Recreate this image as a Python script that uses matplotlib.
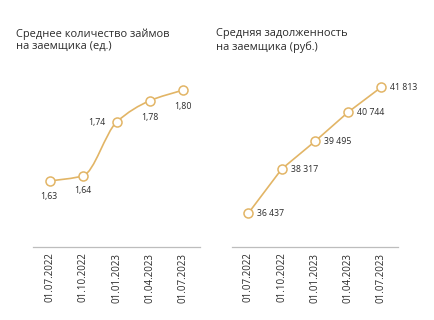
import matplotlib.pyplot as plt
import numpy as np
from matplotlib.path import Path
from matplotlib.patches import PathPatch

dates = ["01.07.2022", "01.10.2022", "01.01.2023", "01.04.2023", "01.07.2023"]
loans_count = [1.63, 1.64, 1.74, 1.78, 1.80]
avg_debt = [36437, 38317, 39495, 40744, 41813]

line_color = "#E2B566"
text_color = "#2b2b2b"
plt.rcParams["font.family"] = ["Open Sans", "DejaVu Sans"]


def smooth_path(xs, ys):
    # monotone cubic (Fritsch-Carlson tangents) drawn as bezier segments
    xs = np.asarray(xs, float)
    ys = np.asarray(ys, float)
    h = np.diff(xs)
    s = np.diff(ys) / h
    d = np.zeros_like(ys)
    d[0], d[-1] = s[0], s[-1]
    for i in range(1, len(xs) - 1):
        if s[i - 1] * s[i] > 0:
            d[i] = 2 / (1 / s[i - 1] + 1 / s[i])
    verts = [(xs[0], ys[0])]
    codes = [Path.MOVETO]
    for i in range(len(xs) - 1):
        c1 = (xs[i] + h[i] / 3, ys[i] + d[i] * h[i] / 3)
        c2 = (xs[i + 1] - h[i] / 3, ys[i + 1] - d[i + 1] * h[i] / 3)
        verts += [c1, c2, (xs[i + 1], ys[i + 1])]
        codes += [Path.CURVE4] * 3
    return Path(verts, codes)


fig = plt.figure(figsize=(4.35, 3.2), dpi=100)
ax1 = fig.add_axes([0.076, 0.228, 0.384, 0.553])
ax2 = fig.add_axes([0.533, 0.228, 0.382, 0.553])

x = np.arange(len(dates))

# left: number of loans (smooth curve)
ax1.add_patch(PathPatch(smooth_path(x, loans_count), fill=False,
                        edgecolor=line_color, lw=1.2, zorder=2))
ax1.plot(x, loans_count, ls="none", marker="o", ms=6.5, mfc="white",
         mec=line_color, mew=1.1, zorder=3)
ax1.set_ylim(1.507, 1.837)
left_offsets = [(-1, -11), (0, -11), (-14, 0), (0, -12), (0, -12)]
for xi, v, off in zip(x, loans_count, left_offsets):
    ax1.annotate(f"{v:.2f}".replace(".", ","), (xi, v), xytext=off,
                 textcoords="offset points", ha="center", va="center",
                 fontsize=6.3, color=text_color)

# right: average debt
ax2.plot(x, avg_debt, color=line_color, lw=1.2, marker="o", ms=6.5,
         mfc="white", mec=line_color, mew=1.1, zorder=3)
ax2.set_ylim(34987, 42538)
for xi, v in zip(x, avg_debt):
    ax2.annotate(f"{v:,}".replace(",", " "), (xi, v), xytext=(6.5, 0),
                 textcoords="offset points", ha="left", va="center",
                 fontsize=6.3, color=text_color)

for ax in (ax1, ax2):
    ax.set_xlim(-0.5, 4.5)
    ax.set_xticks(x)
    ax.set_xticklabels(dates, rotation=90, fontsize=7.0, color=text_color)
    ax.tick_params(axis="x", length=0, pad=4)
    ax.set_yticks([])
    for s in ["top", "left", "right"]:
        ax.spines[s].set_visible(False)
    ax.spines["bottom"].set_color("#bdbdbd")
    ax.spines["bottom"].set_linewidth(0.9)
    ax.patch.set_alpha(0)

fig.text(0.037, 0.912, "Среднее количество займов\nна заемщика (ед.)",
         fontsize=7.9, color=text_color, va="top", ha="left", linespacing=1.2)
fig.text(0.497, 0.912, "Средняя задолженность\nна заемщика (руб.)",
         fontsize=7.9, color=text_color, va="top", ha="left", linespacing=1.2)

fig.savefig("out.png", dpi=100)
